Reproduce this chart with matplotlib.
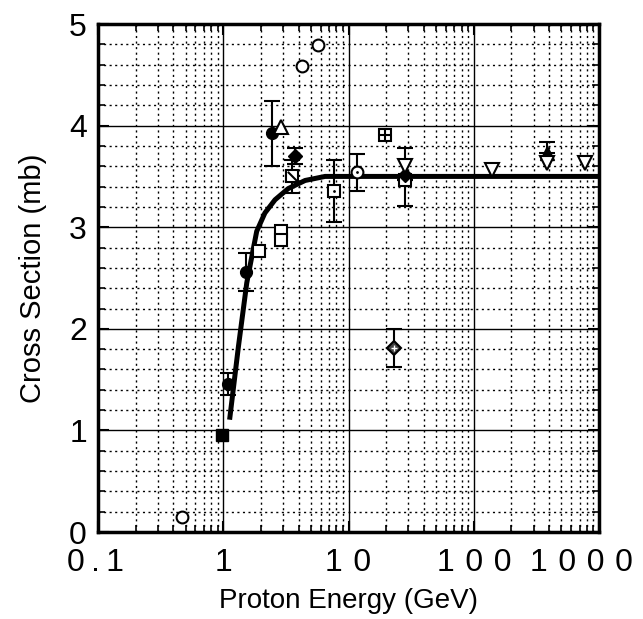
import matplotlib
matplotlib.use("Agg")
import matplotlib.pyplot as plt
import matplotlib.transforms as mtransforms
from matplotlib.ticker import LogLocator, FixedLocator, NullFormatter

plt.rcParams['font.family'] = ['Liberation Sans', 'DejaVu Sans']

# Fitted curve
curve_E = [1.13, 1.32, 1.54, 1.69, 1.85, 2.15, 2.59, 3.3, 4.5, 6.5, 9.4, 1000]
curve_S = [1.13, 1.82, 2.45, 2.71, 2.96, 3.14, 3.27, 3.38, 3.46, 3.50, 3.50, 3.50]

# Data series: energy, cross section, err low, err high
filled_circle_E = [1.10, 1.51, 2.45]
filled_circle_S = [1.46, 2.56, 3.93]
filled_circle_lo = [0.11, 0.19, 0.33]
filled_circle_hi = [0.11, 0.19, 0.31]

filled_square_E = [0.97]
filled_square_S = [0.955]

open_circle_E = [0.47, 4.25, 5.7]
open_circle_S = [0.15, 4.59, 4.79]

open_square_E = [1.93, 2.88, 2.88]
open_square_S = [2.77, 2.96, 2.87]

open_triangle_E = [2.89]
open_triangle_S = [3.99]

filled_diamond_E = [3.74]
filled_diamond_S = [3.70]
filled_diamond_err = [0.08]

slash_square_E = [3.52]
slash_square_S = [3.50]
slash_square_err = [0.16]

dot_square_E = [7.7, 28.5]
dot_square_S = [3.36, 3.46]
dot_square_lo = [0.31, 0.0]
dot_square_hi = [0.30, 0.0]

dot_circle_E = [11.7]
dot_circle_S = [3.54]
dot_circle_err = [0.18]

plus_square_E = [19.6]
plus_square_S = [3.91]

cross_diamond_E = [23.1]
cross_diamond_S = [1.81]
cross_diamond_err = [0.19]

cluster_filled_E = [28.0]
cluster_filled_S = [3.51]
cluster_filled_lo = [0.30]
cluster_filled_hi = [0.27]

open_down_E = [28.5, 140, 385, 773]
open_down_S = [3.60, 3.56, 3.63, 3.63]

filled_up_E = [385]
filled_up_S = [3.73]
filled_up_err = [0.11]

x_tick_values = [0.1, 1, 10, 100, 1000]
x_tick_labels = ['0\u2009.\u20091', '1', '1\u20040', '1\u20040\u20040', '1\u20040\u20040\u20040']
y_tick_values = [0, 1, 2, 3, 4, 5]

fig = plt.figure(figsize=(6.43, 6.19), dpi=100)
ax = fig.add_axes([0.1524, 0.1405, 0.7792, 0.8207])
ax.set_xscale('log')
ax.set_xlim(0.1, 1000)
ax.set_ylim(0, 5)

# grid
ax.xaxis.set_major_locator(FixedLocator(x_tick_values))
ax.xaxis.set_major_formatter(NullFormatter())
ax.xaxis.set_minor_locator(LogLocator(base=10, subs=range(2, 10)))
ax.xaxis.set_minor_formatter(NullFormatter())
ax.yaxis.set_major_locator(FixedLocator(y_tick_values))
ax.yaxis.set_minor_locator(FixedLocator([i * 0.2 for i in range(26)]))
ax.grid(which='major', color='black', linewidth=1.0, linestyle='-')
ax.grid(which='minor', color='black', linewidth=1.0, linestyle=(0, (1.5, 2.5)))
ax.set_axisbelow(True)

ax.tick_params(which='both', direction='in', top=True, right=True, labelsize=23)
ax.tick_params(axis='y', pad=8)
ax.tick_params(which='major', length=8, width=1.5)
ax.tick_params(which='minor', length=5, width=1.2)
for s in ax.spines.values():
    s.set_linewidth(2.5)

# x tick labels drawn as text below the axis (last one shifted left to fit)
x_label_shift_px = [-2, 0, 0, 0, -18]
for val, lab, dx in zip(x_tick_values, x_tick_labels, x_label_shift_px):
    tr = ax.get_xaxis_transform() + mtransforms.ScaledTranslation(dx / 100, -39 / 100, fig.dpi_scale_trans)
    ax.text(val, 0, lab, transform=tr, ha='center', va='baseline', fontsize=23, clip_on=False)

ax.plot(curve_E, curve_S, color='black', linewidth=3.6, zorder=3)

ms = 8.5
ekw = dict(ecolor='black', elinewidth=1.5, capsize=6, capthick=1.5, zorder=4)

ax.errorbar(filled_circle_E, filled_circle_S, yerr=[filled_circle_lo, filled_circle_hi],
            fmt='o', color='black', ms=ms, **ekw)
ax.plot(filled_square_E, filled_square_S, 's', color='black', ms=ms, zorder=5)
ax.plot(open_circle_E, open_circle_S, 'o', mfc='white', mec='black', mew=1.5, ms=ms, zorder=5)
ax.plot(open_square_E, open_square_S, 's', mfc='white', mec='black', mew=1.5, ms=ms, zorder=5)
ax.plot(open_triangle_E, open_triangle_S, '^', mfc='white', mec='black', mew=1.5, ms=ms + 1, zorder=5)
ax.errorbar(filled_diamond_E, filled_diamond_S, yerr=filled_diamond_err,
            fmt='D', color='black', ms=ms - 1, **ekw)
ax.errorbar(slash_square_E, slash_square_S, yerr=slash_square_err,
            fmt='s', mfc='white', mec='black', mew=1.5, ms=ms, **ekw)
ax.plot(slash_square_E, slash_square_S, marker=(2, 0, 45), color='black', ms=ms + 1, mew=1.5, zorder=6)
ax.errorbar(dot_square_E, dot_square_S, yerr=[dot_square_lo, dot_square_hi],
            fmt='s', mfc='white', mec='black', mew=1.5, ms=ms, **ekw)
ax.plot(dot_square_E, dot_square_S, '.', color='black', ms=2, zorder=6)
ax.errorbar(dot_circle_E, dot_circle_S, yerr=dot_circle_err,
            fmt='o', mfc='white', mec='black', mew=1.5, ms=ms, **ekw)
ax.plot(dot_circle_E, dot_circle_S, '.', color='black', ms=2, zorder=6)
ax.plot(plus_square_E, plus_square_S, 's', mfc='white', mec='black', mew=1.5, ms=ms, zorder=5)
ax.plot(plus_square_E, plus_square_S, '+', color='black', mew=1.5, ms=ms, zorder=6)
ax.errorbar(cross_diamond_E, cross_diamond_S, yerr=cross_diamond_err,
            fmt='D', mfc='#444444', mec='black', mew=1.5, ms=ms - 1, **ekw)
ax.plot(cross_diamond_E, cross_diamond_S, '+', color='white', mew=1.0, ms=5, zorder=6)
ax.errorbar(cluster_filled_E, cluster_filled_S, yerr=[cluster_filled_lo, cluster_filled_hi],
            fmt='D', color='black', ms=ms - 1, **ekw)
ax.plot(open_down_E, open_down_S, 'v', mfc='white', mec='black', mew=1.5, ms=ms + 1, zorder=7)
ax.errorbar(filled_up_E, filled_up_S, yerr=[[0], filled_up_err],
            fmt='^', color='black', ms=ms + 1, **ekw)

ax.set_xlabel('Proton Energy (GeV)', fontsize=20, labelpad=37)
ax.set_ylabel('Cross Section (mb)', fontsize=21, labelpad=16)

fig.savefig('out.png', dpi=100)
